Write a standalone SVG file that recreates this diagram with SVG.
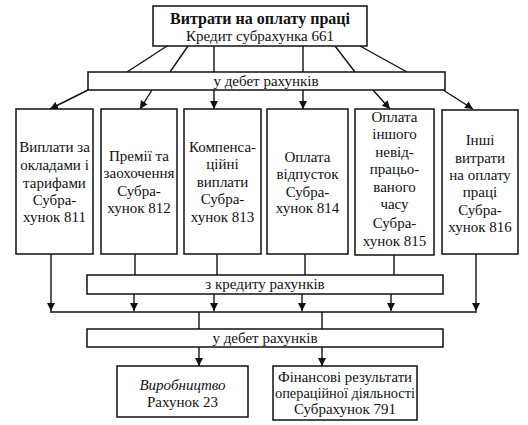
<svg xmlns="http://www.w3.org/2000/svg" width="528" height="425" viewBox="0 0 528 425">
<defs>
<marker id="ah" viewBox="0 0 10 10" refX="10" refY="5" markerWidth="8" markerHeight="8" markerUnits="userSpaceOnUse" orient="auto">
<path d="M0,0 L10,5 L0,10 z" fill="#111"/>
</marker>
<style>
rect{fill:#fff;stroke:#111;stroke-width:1.5}
text{font-family:"Liberation Serif","Times New Roman",serif;font-size:15px;fill:#111;text-anchor:middle}
.b{font-weight:bold;font-size:16px}
.i{font-style:italic}
#connectors line,#connectors polyline{stroke:#111;stroke-width:1.4;fill:none}
.a{marker-end:url(#ah)}
</style>
</defs>
<rect x="0" y="0" width="528" height="425" style="fill:#fff;stroke:none"/>
<g id="connectors">
<line x1="167" y1="46" x2="127" y2="72"/>
<line x1="188" y1="46" x2="170" y2="72"/>
<line x1="214" y1="46" x2="214" y2="72"/>
<line x1="303" y1="46" x2="303" y2="72"/>
<line x1="335" y1="46" x2="355" y2="72"/>
<line x1="360" y1="46" x2="407" y2="72"/>
<line class="a" x1="88" y1="90" x2="50" y2="109"/>
<line class="a" x1="152" y1="90" x2="140" y2="109"/>
<line class="a" x1="214" y1="90" x2="214" y2="109"/>
<line class="a" x1="303" y1="90" x2="303" y2="109"/>
<line class="a" x1="373" y1="90" x2="390" y2="109"/>
<line class="a" x1="443" y1="90" x2="473" y2="109"/>
<line x1="135" y1="254" x2="135" y2="275"/>
<line x1="217" y1="254" x2="217" y2="275"/>
<line x1="305" y1="254" x2="305" y2="275"/>
<line x1="394" y1="254" x2="394" y2="275"/>
<line class="a" x1="51" y1="254" x2="51" y2="311"/>
<line class="a" x1="476" y1="254" x2="476" y2="311"/>
<line class="a" x1="134" y1="294" x2="134" y2="311"/>
<line class="a" x1="214" y1="294" x2="214" y2="311"/>
<line class="a" x1="302" y1="294" x2="302" y2="311"/>
<line class="a" x1="391" y1="294" x2="391" y2="311"/>
<line x1="50" y1="312" x2="477" y2="312"/>
<line x1="199" y1="312" x2="199" y2="329"/>
<line x1="322" y1="312" x2="322" y2="329"/>
<line class="a" x1="199" y1="347" x2="199" y2="366"/>
<line class="a" x1="322" y1="347" x2="322" y2="366"/>
</g>
<g id="top">
<rect x="153" y="6" width="214" height="40"/>
<text class="b" x="260" y="24">Витрати на оплату праці</text>
<text x="260" y="41">Кредит субрахунка 661</text>
</g>
<g id="debet1">
<rect x="88" y="72" width="357" height="18"/>
<text x="266" y="86">у дебет рахунків</text>
</g>
<g id="s811">
<rect x="16" y="109" width="77" height="145"/>
<text x="54.5" y="152">Виплати за</text>
<text x="54.5" y="170">окладами і</text>
<text x="54.5" y="188">тарифами</text>
<text x="54.5" y="205">Субра-</text>
<text x="54.5" y="222">хунок 811</text>
</g>
<g id="s812">
<rect x="101" y="109" width="76" height="145"/>
<text x="139" y="161">Премії та</text>
<text x="139" y="178">заохочення</text>
<text x="139" y="196">Субра-</text>
<text x="139" y="213">хунок 812</text>
</g>
<g id="s813">
<rect x="184" y="109" width="77" height="145"/>
<text x="222.5" y="152">Компенса-</text>
<text x="222.5" y="169">ційні</text>
<text x="222.5" y="187">виплати</text>
<text x="222.5" y="204">Субра-</text>
<text x="222.5" y="222">хунок 813</text>
</g>
<g id="s814">
<rect x="267" y="109" width="81" height="145"/>
<text x="307.5" y="162">Оплата</text>
<text x="307.5" y="179">відпусток</text>
<text x="307.5" y="197">Субра-</text>
<text x="307.5" y="213">хунок 814</text>
</g>
<g id="s815">
<rect x="355" y="109" width="79" height="146"/>
<text x="394.5" y="122">Оплата</text>
<text x="394.5" y="139">іншого</text>
<text x="394.5" y="157">невід-</text>
<text x="394.5" y="174">працьо-</text>
<text x="394.5" y="192">ваного</text>
<text x="394.5" y="209">часу</text>
<text x="394.5" y="228">Субра-</text>
<text x="394.5" y="246">хунок 815</text>
</g>
<g id="s816">
<rect x="442" y="110" width="76" height="144"/>
<text x="480" y="145">Інші</text>
<text x="480" y="163">витрати</text>
<text x="480" y="180">на оплату</text>
<text x="480" y="197">праці</text>
<text x="480" y="215">Субра-</text>
<text x="480" y="232">хунок 816</text>
</g>
<g id="kredit">
<rect x="87" y="275" width="356" height="19"/>
<text x="265" y="289">з кредиту рахунків</text>
</g>
<g id="debet2">
<rect x="87" y="329" width="356" height="18"/>
<text x="265" y="343">у дебет рахунків</text>
</g>
<g id="r23">
<rect x="117" y="366" width="131" height="51"/>
<text class="i" x="182.5" y="390">Виробництво</text>
<text x="182.5" y="407">Рахунок 23</text>
</g>
<g id="s791">
<rect x="273" y="366" width="144" height="54"/>
<text x="345" y="382" textLength="134" lengthAdjust="spacingAndGlyphs">Фінансові результати</text>
<text x="345" y="398" textLength="140" lengthAdjust="spacingAndGlyphs">операційної діяльності</text>
<text x="345" y="414">Субрахунок 791</text>
</g>
</svg>
